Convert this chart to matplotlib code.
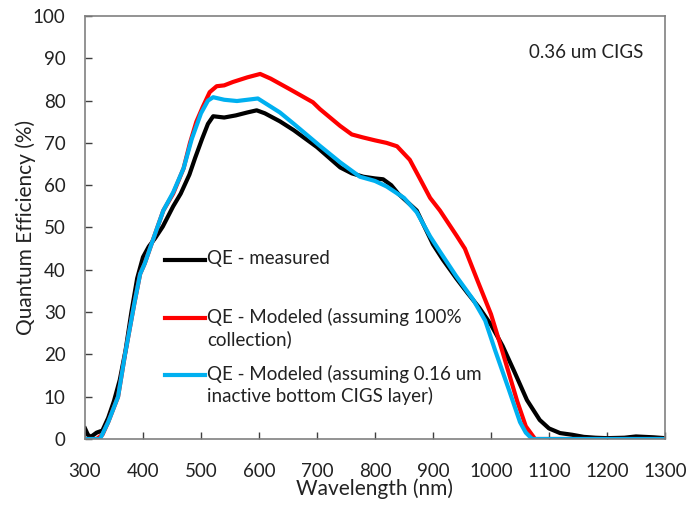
import matplotlib
matplotlib.use("Agg")
import matplotlib.pyplot as plt
from matplotlib.lines import Line2D

plt.rcParams['font.family'] = ['Lato', 'DejaVu Sans']

# Measured QE
wl_meas = [300, 305, 310, 320, 330, 340, 350, 360, 370, 380, 390, 400, 410, 421, 434, 452,
           465, 480, 490, 502, 512, 521, 540, 560, 580, 596, 610, 636, 660, 680, 700, 740, 760,
           780, 800, 814, 828, 840, 856, 872, 900, 917, 940, 959, 980, 1000, 1020, 1040,
           1062, 1084, 1100, 1119, 1140, 1160, 1180, 1200, 1230, 1250, 1280, 1300]
qe_meas = [2.5, 1.0, 0.5, 1.5, 2.0, 5.0, 9.0, 14.0, 21.0, 30.0, 38.0, 43.0, 45.5, 47.5, 50.2, 55.0,
           58.0, 62.5, 66.5, 71.0, 74.5, 76.3, 76.0, 76.5, 77.2, 77.7, 77.0, 75.1, 73.0, 71.0, 69.0, 64.2, 62.8,
           62.0, 61.6, 61.4, 60.0, 58.0, 56.0, 54.0, 46.0, 42.4, 38.0, 34.6, 31.0, 27.0, 22.0, 16.0,
           9.2, 4.5, 2.5, 1.4, 1.0, 0.5, 0.3, 0.2, 0.3, 0.6, 0.4, 0.2]

# Modeled, 100% collection
wl_red = [300, 320, 330, 340, 357, 369, 385, 395, 403, 417, 435, 452, 470, 481, 492, 503,
          515, 527, 540, 555, 580, 602, 620, 653, 693, 705, 740, 760, 779, 800, 820, 838,
          860, 878, 895, 912, 941, 955, 978, 1000, 1019, 1045, 1060, 1076, 1100, 1300]
qe_red = [0.0, 0.0, 1.0, 4.0, 10.0, 20.0, 32.0, 39.0, 41.5, 47.0, 54.0, 58.0, 64.0, 70.0, 75.0, 78.5,
          82.0, 83.4, 83.6, 84.4, 85.5, 86.3, 85.2, 82.7, 79.6, 78.0, 74.0, 72.0, 71.3, 70.6, 70.0, 69.2,
          66.0, 61.4, 57.0, 54.0, 48.0, 45.0, 37.0, 29.5, 21.0, 9.0, 3.0, 0.0, 0.0, 0.0]

# Modeled, 0.16 um inactive bottom CIGS layer
wl_blue = [300, 326, 340, 357, 369, 385, 395, 403, 417, 435, 452, 470, 484, 500, 512, 521,
           540, 562, 580, 598, 636, 660, 705, 740, 774, 800, 820, 850, 872, 895, 912, 940,
           969, 990, 1007, 1030, 1050, 1060, 1071, 1100, 1300]
qe_blue = [0.0, 0.0, 4.0, 10.0, 20.0, 32.0, 39.0, 41.5, 47.0, 54.0, 58.3, 64.0, 70.9, 77.0, 80.0, 80.8,
           80.2, 79.9, 80.2, 80.5, 77.2, 74.5, 69.3, 65.4, 62.0, 61.0, 59.7, 57.0, 53.6, 47.9, 44.3, 38.5,
           33.0, 28.0, 21.0, 12.0, 4.0, 1.5, 0.0, 0.0, 0.0]

legend_labels = ["QE - measured",
                 "QE - Modeled (assuming 100%\ncollection)",
                 "QE - Modeled (assuming 0.16 um\ninactive bottom CIGS layer)"]
colors = ["#000000", "#FF0000", "#00B0F0"]

fig = plt.figure(figsize=(6.86, 5.14), dpi=100)
ax = fig.add_axes([85/686, 75/514, 580/686, 423/514])

ax.plot(wl_meas, qe_meas, color=colors[0], lw=3.0, solid_joinstyle='round')
ax.plot(wl_red, qe_red, color=colors[1], lw=3.0, solid_joinstyle='round')
ax.plot(wl_blue, qe_blue, color=colors[2], lw=3.0, solid_joinstyle='round')

ax.set_xlim(300, 1300)
ax.set_ylim(0, 100)
ax.set_xticks(range(300, 1301, 100))
ax.set_yticks(range(0, 101, 10))
ax.tick_params(direction='in', length=5, width=1, colors='#404040', labelsize=13.5,
               labelcolor='#222222')
ax.tick_params(axis='y', pad=14)
ax.tick_params(axis='x', pad=17)
for s in ax.spines.values():
    s.set_color('#808080')
    s.set_linewidth(1.2)

ax.set_xlabel("Wavelength (nm)", fontsize=15, color='#222222', labelpad=-1)
ax.set_ylabel("Quantum Efficiency (%)", fontsize=15, color='#222222', labelpad=-2)

# in-plot legend
ys = [260, 318, 375]
for y, c, lab in zip(ys, colors, legend_labels):
    yf = 1 - y / 514
    fig.add_artist(Line2D([165/686, 205/686], [yf, yf], color=c, lw=3.0,
                          transform=fig.transFigure))
    fig.text(207/686, yf + 10/514, lab, fontsize=13.5, color='#222222', va='top',
             ha='left', transform=fig.transFigure, linespacing=1.25)

fig.text(643/686, 1 - 53/514, "0.36 um CIGS", fontsize=13.5, color='#222222',
         ha='right', va='center')

fig.savefig("out.png", dpi=100, facecolor='white')
